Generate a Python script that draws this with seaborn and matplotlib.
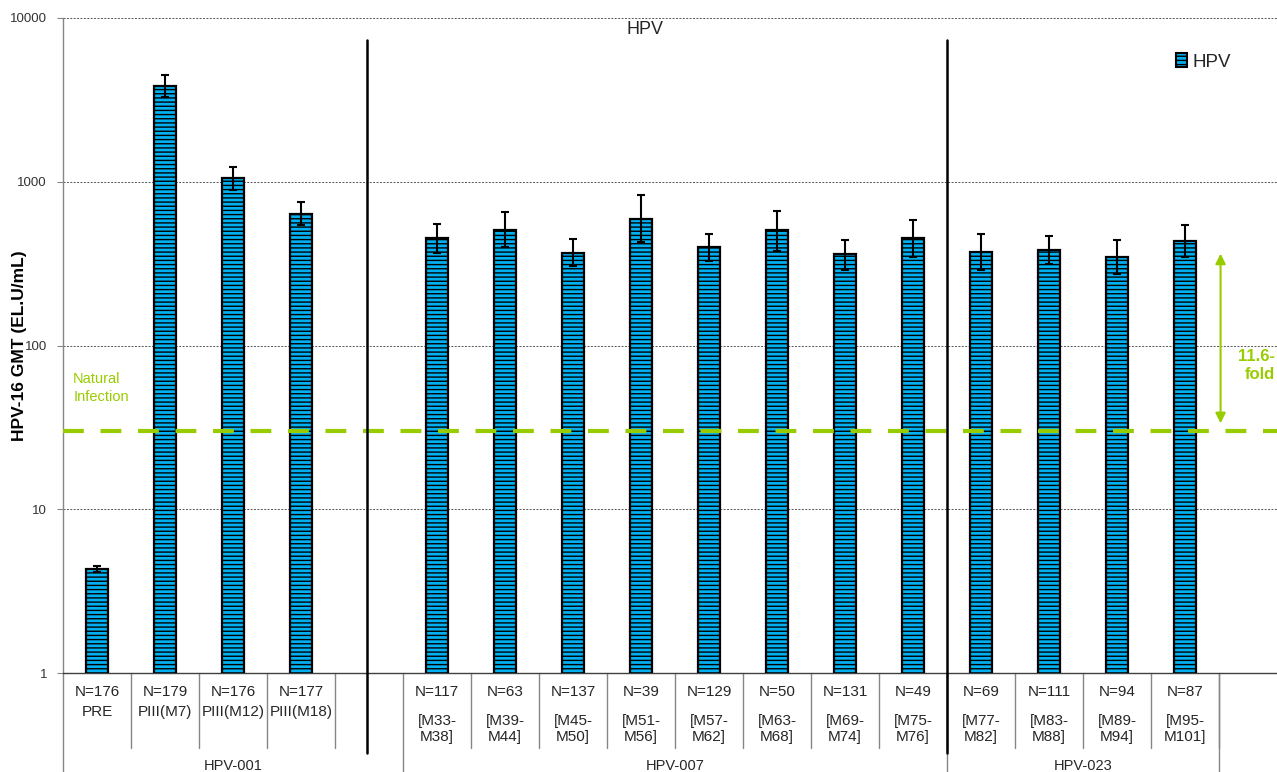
import matplotlib
matplotlib.use("Agg")
import matplotlib.pyplot as plt
import matplotlib.ticker as mticker
from matplotlib.patches import Patch
import numpy as np
import pandas as pd
import seaborn as sns

# ---- data -------------------------------------------------------------
studies = ["HPV-001", "HPV-007", "HPV-023"]
study_sizes = [4, 8, 4]
timepoints = ["PRE", "PIII(M7)", "PIII(M12)", "PIII(M18)",
              "[M33-\nM38]", "[M39-\nM44]", "[M45-\nM50]", "[M51-\nM56]",
              "[M57-\nM62]", "[M63-\nM68]", "[M69-\nM74]", "[M75-\nM76]",
              "[M77-\nM82]", "[M83-\nM88]", "[M89-\nM94]", "[M95-\nM101]"]
n_subjects = [176, 179, 176, 177, 117, 63, 137, 39, 129, 50, 131, 49,
              69, 111, 94, 87]
gmt = [4.32, 3860, 1050, 635, 453, 509, 369, 595, 401, 505, 361, 451,
       372, 383, 347, 436]
ci_low = [4.15, 3306, 891, 544, 369, 401, 305, 427, 330, 379, 289, 347,
          289, 313, 272, 347]
ci_high = [4.50, 4467, 1225, 752, 554, 650, 447, 830, 482, 665, 441, 584,
           480, 469, 440, 545]
natural_infection = 29.9
fold_increase = 11.6
series_name = "HPV"

# ---- style ------------------------------------------------------------
sns.set_theme(style="white")
plt.rcParams["font.family"] = ["Liberation Sans", "DejaVu Sans"]
plt.rcParams["hatch.linewidth"] = 1.0
plt.rcParams["hatch.color"] = "black"

BAR = "#00B0F0"
GREEN = "#99CC00"
GRAY = "#868686"

# slot layout: one empty slot after the first study
gap_after = [1, 0, 0]
positions, start = [], 0
group_bounds = []
for size, gap in zip(study_sizes, gap_after):
    positions.extend(range(start, start + size))
    group_bounds.append((start - 0.5, start + size - 0.5 + gap))
    start += size + gap

df = pd.DataFrame({"slot": positions, "gmt": gmt, "series": series_name})

fig = plt.figure(figsize=(12.77, 7.72), dpi=100)
ax = fig.add_axes([63 / 1277, 1 - 673 / 772, 1214 / 1277, 655 / 772])

sns.barplot(data=df, x="slot", y="gmt", native_scale=True, width=0.33,
            color=BAR, saturation=1, edgecolor="black", linewidth=1.6,
            hatch="----", errorbar=None, ax=ax, zorder=3)

g = np.array(gmt)
ax.errorbar(positions, g, yerr=[g - np.array(ci_low), np.array(ci_high) - g],
            fmt="none", ecolor="black", elinewidth=1.5, capsize=3,
            capthick=1.5, zorder=4)

ax.set_yscale("log")
ax.set_ylim(1, 10000)
ax.set_xlim(-0.5, 17.35)
ax.yaxis.set_major_locator(mticker.FixedLocator([1, 10, 100, 1000, 10000]))
ax.yaxis.set_minor_locator(mticker.NullLocator())
ax.set_yticklabels(["1", "10", "100", "1000", "10000"], fontsize=9.5,
                   color="#333333")
ax.tick_params(axis="y", which="major", direction="out", length=4.5,
               width=0.8, color=GRAY, pad=7, left=True)
ax.set_xticks([])
ax.set_xlabel("")
ax.set_ylabel("HPV-16 GMT (EL.U/mL)", fontsize=12.5, fontweight="bold",
              color="black")
ax.yaxis.set_label_coords(-36 / 1214, 0.5)

ax.grid(axis="y", which="major", color="#555555", linestyle=(0, (2, 1.5)),
        linewidth=0.7, zorder=0)
for side in ["top", "right"]:
    ax.spines[side].set_visible(False)
ax.spines["left"].set_color(GRAY)
ax.spines["left"].set_linewidth(1.0)
ax.spines["bottom"].set_color("#404040")
ax.spines["bottom"].set_linewidth(1.0)

# natural-infection reference line
ax.axhline(natural_infection, color=GREEN, linewidth=3.0, dashes=(5, 4),
           zorder=5)
ax.text(-0.35, natural_infection * 1.85, "Natural\nInfection",
        color=GREEN, fontsize=10.5, ha="left", va="center", linespacing=1.35)

# fold arrow
arrow_x = 16.52
ax.annotate("", xy=(arrow_x, natural_infection * fold_increase * 1.05),
            xytext=(arrow_x, natural_infection * 1.12),
            arrowprops=dict(arrowstyle="<|-|>", color=GREEN, lw=1.5,
                            mutation_scale=15, shrinkA=0, shrinkB=0))
ax.text(17.35 - 0.03, natural_infection * fold_increase / 4.6,
        f"{fold_increase}-\nfold", color=GREEN, fontsize=12,
        fontweight="bold", ha="right", va="center", linespacing=1.25)

xt = ax.get_xaxis_transform()

# category labels and separators under the axis
for pos, n, lab in zip(positions, n_subjects, timepoints):
    ax.text(pos, -19 / 655, f"N={n}", transform=xt, ha="center",
            va="center", fontsize=11, clip_on=False)
    y_lab = -56 / 655 if "\n" in lab else -39 / 655
    ax.text(pos, y_lab, lab, transform=xt, ha="center", va="center",
            fontsize=11, linespacing=1.15, clip_on=False)

inner = []
for (lo, hi), size in zip(group_bounds, study_sizes):
    inner.extend(lo + k for k in range(1, size + 1))
for xb in inner:
    ax.plot([xb, xb], [0, -75 / 655], transform=xt, color=GRAY, lw=1.0,
            clip_on=False)
for lo, hi in group_bounds:
    ax.plot([hi, hi], [0, -99 / 655], transform=xt, color=GRAY, lw=1.0,
            clip_on=False)
ax.plot([-0.5, -0.5], [0, -99 / 655], transform=xt, color=GRAY, lw=1.0,
        clip_on=False)
for (lo, hi), name in zip(group_bounds, studies):
    ax.text((lo + hi) / 2, -93 / 655, name, transform=xt, ha="center",
            va="center", fontsize=10.5, clip_on=False)

# study dividers inside the plot
for xd in [positions[study_sizes[0] - 1] + 0.97,
           positions[sum(study_sizes[:2]) - 1] + 0.5]:
    ax.plot([xd, xd], [633 / 655, -80 / 655], transform=xt, color="black",
            lw=1.8, clip_on=False, zorder=6)

fig.text(645 / 1277, 1 - 30 / 772, series_name, fontsize=13, ha="center",
         va="center")

handle = Patch(facecolor=BAR, edgecolor="black", hatch="----", linewidth=1.5)
ax.legend([handle], [series_name], loc="center right",
          bbox_to_anchor=(1231 / 1277, 1 - 62 / 772),
          bbox_transform=fig.transFigure, frameon=False, fontsize=13.5,
          handlelength=0.6, handleheight=0.75, handletextpad=0.3,
          borderaxespad=0, borderpad=0)

fig.savefig("out.png", dpi=100)
